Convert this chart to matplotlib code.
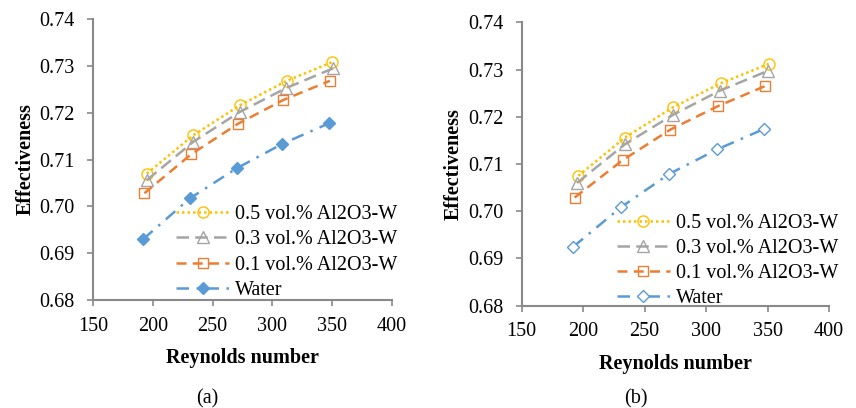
import matplotlib
matplotlib.use('Agg')
from matplotlib import pyplot as plt

# panel (a)
re_05_a = [195, 234, 273, 312, 350]
re_03_a = [195, 234, 273, 311, 351]
re_01_a = [193, 232, 271, 309, 348]
re_w_a = [192, 231, 270, 308, 347]
eff_05_a = [0.7070, 0.7152, 0.7216, 0.7268, 0.7308]
eff_03_a = [0.7056, 0.7138, 0.7202, 0.7252, 0.7295]
eff_01_a = [0.7028, 0.7111, 0.7176, 0.7227, 0.7268]
eff_w_a = [0.6930, 0.7017, 0.7081, 0.7133, 0.7177]

# panel (b)
re_05_b = [196, 234, 273, 312, 351]
re_03_b = [195, 234, 273, 311, 350]
re_01_b = [193, 232, 271, 310, 348]
re_w_b = [192, 231, 270, 309, 347]
eff_05_b = [0.7075, 0.7156, 0.7220, 0.7271, 0.7312]
eff_03_b = [0.7060, 0.7142, 0.7204, 0.7255, 0.7297]
eff_01_b = [0.7029, 0.7108, 0.7173, 0.7223, 0.7265]
eff_w_b = [0.6925, 0.7009, 0.7079, 0.7131, 0.7174]

labels = ['0.5 vol.% Al2O3-W', '0.3 vol.% Al2O3-W', '0.1 vol.% Al2O3-W', 'Water']
x_ticks = [150, 200, 250, 300, 350, 400]
y_ticks = [0.68, 0.69, 0.70, 0.71, 0.72, 0.73, 0.74]

plt.rcParams['font.family'] = ['Liberation Serif', 'DejaVu Serif']
fs = 14.5
spine_col = '#898989'

fig = plt.figure(figsize=(8.56, 4.08), dpi=100)
ax_a = fig.add_axes([0.1086, 0.2647, 0.3494, 0.6887])
ax_b = fig.add_axes([0.6095, 0.2507, 0.3590, 0.6946])


def draw(ax, data, water_fill, leg_xy, caption, cap_x):
    (r5, e5), (r3, e3), (r1, e1), (rw, ew) = data
    lw = 1.8
    ax.plot(r5, e5, color='#FFC000', linestyle=(0, (1, 1.2)), linewidth=lw,
            marker='o', markersize=8, markerfacecolor='none',
            markeredgewidth=1.0, label=labels[0])
    ax.plot(r3, e3, color='#A5A5A5', linestyle=(0, (5, 2.5)), linewidth=lw,
            marker='^', markersize=8, markerfacecolor='none',
            markeredgewidth=1.0, label=labels[1])
    ax.plot(r1, e1, color='#ED7D31', linestyle=(0, (4, 2.5)), linewidth=lw,
            marker='s', markersize=7.5, markerfacecolor='none',
            markeredgewidth=1.0, label=labels[2])
    ax.plot(rw, ew, color='#5B9BD5', linestyle=(0, (5, 3, 1, 3)), linewidth=lw,
            marker='D', markersize=6 if water_fill else 6.5,
            markerfacecolor='#5B9BD5' if water_fill else 'white',
            markeredgewidth=1.0, label=labels[3])

    ax.set_xlim(150, 400)
    ax.set_ylim(0.68, 0.74)
    ax.set_xticks(x_ticks)
    ax.set_yticks(y_ticks)
    ax.set_yticklabels(['%.2f' % v for v in y_ticks])
    ax.tick_params(direction='out', length=4, width=1.2, color=spine_col,
                   labelsize=fs, pad=8)
    ax.tick_params(axis='y', pad=9)
    for s in ['top', 'right']:
        ax.spines[s].set_visible(False)
    for s in ['left', 'bottom']:
        ax.spines[s].set_color(spine_col)
        ax.spines[s].set_linewidth(1.5)

    ax.set_xlabel('Reynolds number', fontsize=fs, fontweight='bold', labelpad=9)
    ax.set_ylabel('Effectiveness', fontsize=fs, fontweight='bold', labelpad=3)

    ax.legend(loc='upper left', bbox_to_anchor=leg_xy, bbox_transform=fig.transFigure,
              frameon=False, fontsize=fs, handlelength=2.6, handletextpad=0.3,
              labelspacing=0.3, borderaxespad=0, borderpad=0)
    fig.text(cap_x, 0.012, caption, fontsize=fs, ha='center', va='baseline')


draw(ax_a, [(re_05_a, eff_05_a), (re_03_a, eff_03_a), (re_01_a, eff_01_a),
            (re_w_a, eff_w_a)], True, (0.206, 0.497), '(a)', 0.242)
draw(ax_b, [(re_05_b, eff_05_b), (re_03_b, eff_03_b), (re_01_b, eff_01_b),
            (re_w_b, eff_w_b)], False, (0.721, 0.476), '(b)', 0.743)

fig.savefig('out.png', dpi=100)
